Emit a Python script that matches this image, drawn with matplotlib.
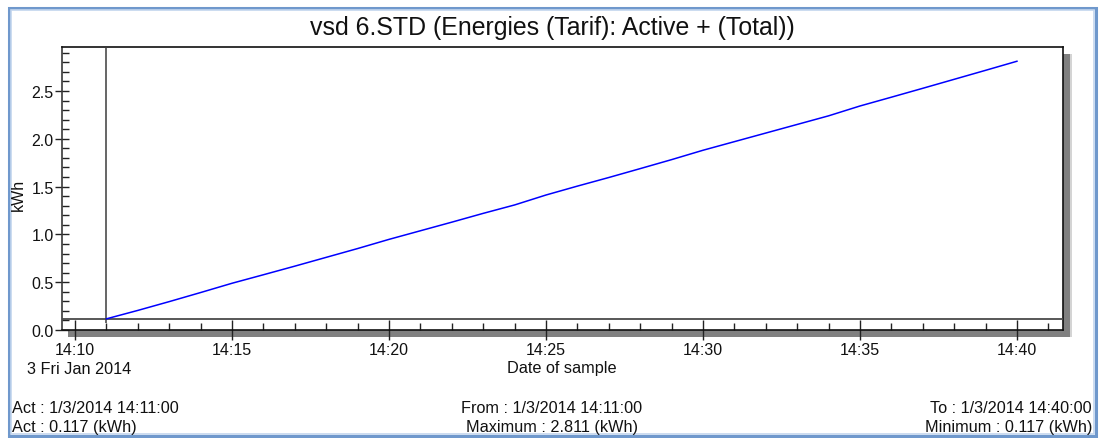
from datetime import datetime, timedelta

import matplotlib
matplotlib.use("Agg")
import matplotlib.pyplot as plt
import matplotlib.dates as mdates
from matplotlib.patches import Rectangle
from matplotlib.ticker import MultipleLocator, FormatStrFormatter

plt.rcParams["font.family"] = ["Liberation Sans", "DejaVu Sans"]

W, H = 1101, 439

# samples, one per minute from 14:11 to 14:40 on 3 Jan 2014
sample_minutes = list(range(11, 41))
energy_kwh = [0.117, 0.205, 0.297, 0.392, 0.489, 0.578, 0.668, 0.760, 0.852, 0.948,
              1.038, 1.128, 1.220, 1.308, 1.412, 1.505, 1.595, 1.688, 1.782, 1.880,
              1.970, 2.060, 2.150, 2.240, 2.343, 2.435, 2.528, 2.622, 2.716, 2.811]

title = "vsd 6.STD (Energies (Tarif): Active + (Total))"
act_time = "1/3/2014 14:11:00"
from_time = "1/3/2014 14:11:00"
to_time = "1/3/2014 14:40:00"

day = datetime(2014, 1, 3, 14, 0)
times = [day + timedelta(minutes=m) for m in sample_minutes]
act_value = energy_kwh[0]
max_value = max(energy_kwh)
min_value = min(energy_kwh)


def fx(x):
    return x / W


def fy(y):
    return 1 - y / H


fig = plt.figure(figsize=(W / 100, H / 100), dpi=100)
fig.patch.set_facecolor("white")

# window frame
fig.add_artist(Rectangle((fx(9), fy(437)), (1096 - 9) / W, (437 - 9) / H,
                         transform=fig.transFigure, fill=False, ec="#6f98cc", lw=2.2, zorder=1))
fig.add_artist(Rectangle((fx(11), fy(435)), (1094 - 11) / W, (435 - 11) / H,
                         transform=fig.transFigure, fill=False, ec="#c3d6ee", lw=1.2, zorder=1))

# drop shadow round the plot box
fig.add_artist(Rectangle((fx(1063), fy(338)), 7 / W, (338 - 55) / H,
                         transform=fig.transFigure, fc="#808080", ec="none", zorder=1))
fig.add_artist(Rectangle((fx(68), fy(338)), (1070 - 68) / W, 7 / H,
                         transform=fig.transFigure, fc="#808080", ec="none", zorder=1))
fig.add_artist(Rectangle((fx(1070), fy(338)), 1.5 / W, (338 - 55) / H,
                         transform=fig.transFigure, fc="#d4d4d4", ec="none", zorder=1))

ax = fig.add_axes([fx(62), fy(331), (1063 - 62) / W, (331 - 48) / H], zorder=2)

ax.plot(times, energy_kwh, color="#0000ff", lw=1.1, zorder=4)
ax.axhline(min_value, color="#4a4a4a", lw=1.3, zorder=3)
ax.vlines(times[0], 0.07, 3.0, color="#3c3c3c", lw=1.1, zorder=3)

ax.set_xlim(day + timedelta(minutes=10) - timedelta(seconds=25),
            day + timedelta(minutes=40) + timedelta(seconds=88))
ax.set_ylim(0, 2.96)

ax.xaxis.set_major_locator(mdates.MinuteLocator(byminute=range(0, 60, 5)))
ax.xaxis.set_minor_locator(mdates.MinuteLocator())
ax.xaxis.set_major_formatter(mdates.DateFormatter("%H:%M"))
ax.yaxis.set_major_locator(MultipleLocator(0.5))
ax.yaxis.set_minor_locator(MultipleLocator(0.1))
ax.yaxis.set_major_formatter(FormatStrFormatter("%.1f"))

ax.tick_params(axis="x", which="major", direction="inout", length=13.7, width=1,
               color="#222222", pad=1.8, labelsize=11.5, labelcolor="#111111")
ax.tick_params(axis="x", which="minor", direction="in", length=5, width=1, color="#222222")
ax.tick_params(axis="y", which="major", direction="inout", length=9.4, width=1,
               color="#222222", pad=1.2, labelsize=11.5, labelcolor="#111111")
ax.tick_params(axis="y", which="minor", direction="in", length=5, width=1, color="#222222")

for side in ["top", "right", "bottom"]:
    ax.spines[side].set_color("#111111")
    ax.spines[side].set_linewidth(1.2)
ax.spines["left"].set_color("#3a3a3a")
ax.spines["left"].set_linewidth(1.2)

# titles and captions
fig.text(fx(552), fy(28), title, ha="center", va="center", fontsize=17.9, color="#111111")
fig.text(fx(18), fy(195), "kWh", ha="center", va="center", rotation=90, fontsize=11.5, color="#111111")
fig.text(fx(27), fy(369), "3 Fri Jan 2014", ha="left", va="center", fontsize=11.7, color="#111111")
fig.text(fx(562), fy(369), "Date of sample", ha="center", va="center", fontsize=11.7, color="#111111")

fig.text(fx(12), fy(409), f"Act : {act_time}", ha="left", va="center", fontsize=11.7, color="#111111")
fig.text(fx(12), fy(428), f"Act : {act_value:.3f} (kWh)", ha="left", va="center", fontsize=11.7, color="#111111")
fig.text(fx(552), fy(409), f"From : {from_time}", ha="center", va="center", fontsize=11.7, color="#111111")
fig.text(fx(552), fy(428), f"Maximum : {max_value:.3f} (kWh)", ha="center", va="center", fontsize=11.7, color="#111111")
fig.text(fx(1092), fy(409), f"To : {to_time}", ha="right", va="center", fontsize=11.7, color="#111111")
fig.text(fx(1092), fy(428), f"Minimum : {min_value:.3f} (kWh)", ha="right", va="center", fontsize=11.7, color="#111111")

fig.savefig("out.png", dpi=100)
